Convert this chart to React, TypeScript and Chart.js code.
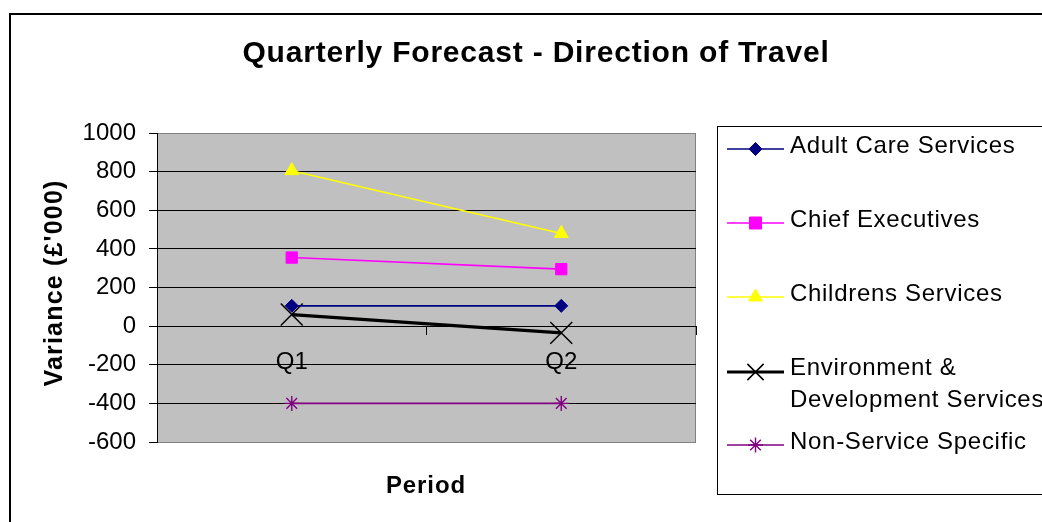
import React, { useEffect, useRef } from 'react';
import { Chart, registerables } from 'chart.js';
import { drawPoint } from 'chart.js/helpers';

Chart.register(...registerables);

const periods = ['Q1', 'Q2'];
const adultCare = [105, 105];
const chiefExecutives = [355, 295];
const childrensServices = [805, 480];
const environmentDevelopment = [60, -35];
const nonServiceSpecific = [-400, -400];

const seriesNames = [
  'Adult Care Services',
  'Chief Executives',
  'Childrens Services',
  'Environment & Development Services',
  'Non-Service Specific',
];
const legendText = [
  ['Adult Care Services'],
  ['Chief Executives'],
  ['Childrens Services'],
  ['Environment &', 'Development Services'],
  ['Non-Service Specific'],
];

const yMin = -600;
const yMax = 1000;
const yStep = 200;

const chartTitle = 'Quarterly Forecast - Direction of Travel';
const yTitle = "Variance (£'000)";
const xTitle = 'Period';

const FONT = '"Liberation Sans", Arial, sans-serif';

const seriesStyles = [
  { color: '#000080', width: 1.6, style: 'rectRot', radius: 6.5, lradius: 6.5, pbw: 1 },
  { color: '#FF00FF', width: 1.6, style: 'rect', radius: 8, lradius: 8.5, pbw: 1 },
  { color: '#FFFF00', width: 1.6, style: 'triangle', radius: 8, lradius: 8, pbw: 1 },
  { color: '#000000', width: 3.2, style: 'crossRot', radius: 15.5, lradius: 11.5, pbw: 1.5 },
  { color: '#800080', width: 1.6, style: 'star', radius: 7.5, lradius: 7.5, pbw: 1.4 },
];

const seriesValues = [adultCare, chiefExecutives, childrensServices, environmentDevelopment, nonServiceSpecific];

const decorPlugin = {
  id: 'decor',
  beforeDraw(chart: any) {
    const { ctx, chartArea: a } = chart;
    ctx.save();
    ctx.fillStyle = '#ffffff';
    ctx.fillRect(0, 0, chart.width, chart.height);
    ctx.fillStyle = '#C0C0C0';
    ctx.fillRect(a.left, a.top, a.right - a.left, a.bottom - a.top);
    ctx.strokeStyle = '#808080';
    ctx.lineWidth = 1;
    ctx.strokeRect(a.left + 0.5, a.top + 0.5, a.right - a.left - 1, a.bottom - a.top);
    ctx.restore();
  },
  afterDraw(chart: any) {
    const { ctx } = chart;
    ctx.save();
    // outer frame
    ctx.strokeStyle = '#000';
    ctx.lineWidth = 2;
    ctx.strokeRect(10, 14, 3000, 3000);

    // title
    ctx.fillStyle = '#000';
    ctx.textAlign = 'center';
    ctx.textBaseline = 'alphabetic';
    ctx.font = `bold 30px ${FONT}`;
    (ctx as any).letterSpacing = '0.8px';
    ctx.fillText(chartTitle, 536, 62);

    // x title
    ctx.font = `bold 24px ${FONT}`;
    (ctx as any).letterSpacing = '0.9px';
    ctx.fillText(xTitle, 426, 493);

    // y title
    ctx.save();
    ctx.translate(62, 283);
    ctx.rotate(-Math.PI / 2);
    ctx.font = `bold 25px ${FONT}`;
    (ctx as any).letterSpacing = '1.2px';
    ctx.fillText(yTitle, 0, 0);
    ctx.restore();

    // legend box
    ctx.strokeStyle = '#000';
    ctx.lineWidth = 1;
    ctx.strokeRect(717.5, 126.5, 3000, 368);

    const lineY = [149, 223, 297, 372, 445];
    const textY = [146, 220, 294, 368, 442];
    chart.data.datasets.forEach((ds: any, i: number) => {
      const st = seriesStyles[i];
      ctx.strokeStyle = st.color;
      ctx.lineWidth = st.width;
      ctx.beginPath();
      ctx.moveTo(727, lineY[i]);
      ctx.lineTo(784, lineY[i]);
      ctx.stroke();
      ctx.fillStyle = st.color;
      ctx.strokeStyle = st.color;
      ctx.lineWidth = st.pbw;
      drawPoint(ctx, { pointStyle: st.style, rotation: 0, radius: st.lradius, borderWidth: st.pbw } as any, 755.5, lineY[i]);
      ctx.fillStyle = '#000';
      ctx.textAlign = 'left';
      ctx.textBaseline = 'middle';
      ctx.font = `24px ${FONT}`;
      (ctx as any).letterSpacing = '0.7px';
      legendText[i].forEach((t, j) => ctx.fillText(t, 790, textY[i] + j * 32));
    });
    ctx.restore();
  },
};

export default function App() {
  const ref = useRef<HTMLCanvasElement | null>(null);
  useEffect(() => {
    if (!ref.current) return;
    Chart.defaults.font.family = FONT;
    const chart = new Chart(ref.current, {
      type: 'line',
      data: {
        labels: periods,
        datasets: seriesValues.map((vals, i) => ({
          label: seriesNames[i],
          data: vals,
          borderColor: seriesStyles[i].color,
          backgroundColor: seriesStyles[i].color,
          borderWidth: seriesStyles[i].width,
          pointStyle: seriesStyles[i].style as any,
          pointRadius: seriesStyles[i].radius,
          pointBorderWidth: seriesStyles[i].pbw,
          pointBackgroundColor: seriesStyles[i].color,
          pointBorderColor: seriesStyles[i].color,
          tension: 0,
          fill: false,
        })),
      },
      options: {
        responsive: false,
        animation: false,
        layout: { padding: { top: 133, left: 0, right: 346, bottom: 80 } },
        plugins: {
          legend: { display: false },
          title: { display: false },
          tooltip: { enabled: false },
        },
        scales: {
          x: {
            type: 'category',
            position: { y: 0 } as any,
            offset: true,
            grid: {
              offset: true,
              drawOnChartArea: false,
              drawTicks: true,
              tickLength: 8,
              color: '#000',
              tickColor: '#000',
            },
            border: { display: true, color: '#000', width: 1 },
            ticks: {
              color: '#000',
              font: { size: 24, family: FONT },
              padding: 14,
              maxRotation: 0,
              autoSkip: false,
            },
          },
          y: {
            min: yMin,
            max: yMax,
            afterFit: (scale: any) => {
              scale.width = 157;
            },
            grid: {
              color: (c: any) =>
                c.tick && (c.tick.value === yMax || c.tick.value === yMin) ? '#808080' : '#000',
              tickColor: '#000',
              tickLength: 8,
              lineWidth: 1,
            },
            border: { display: true, color: '#000', width: 1 },
            ticks: {
              stepSize: yStep,
              color: '#000',
              font: { size: 24, family: FONT },
              padding: 13,
              callback: (v: any) => String(v),
            },
          },
        },
      },
      plugins: [decorPlugin],
    });
    return () => chart.destroy();
  }, []);
  return (
    <div style={{ position: 'fixed', left: 0, top: 0, width: 1042, height: 522, background: '#fff' }}>
      <canvas ref={ref} width={1042} height={522} />
    </div>
  );
}
